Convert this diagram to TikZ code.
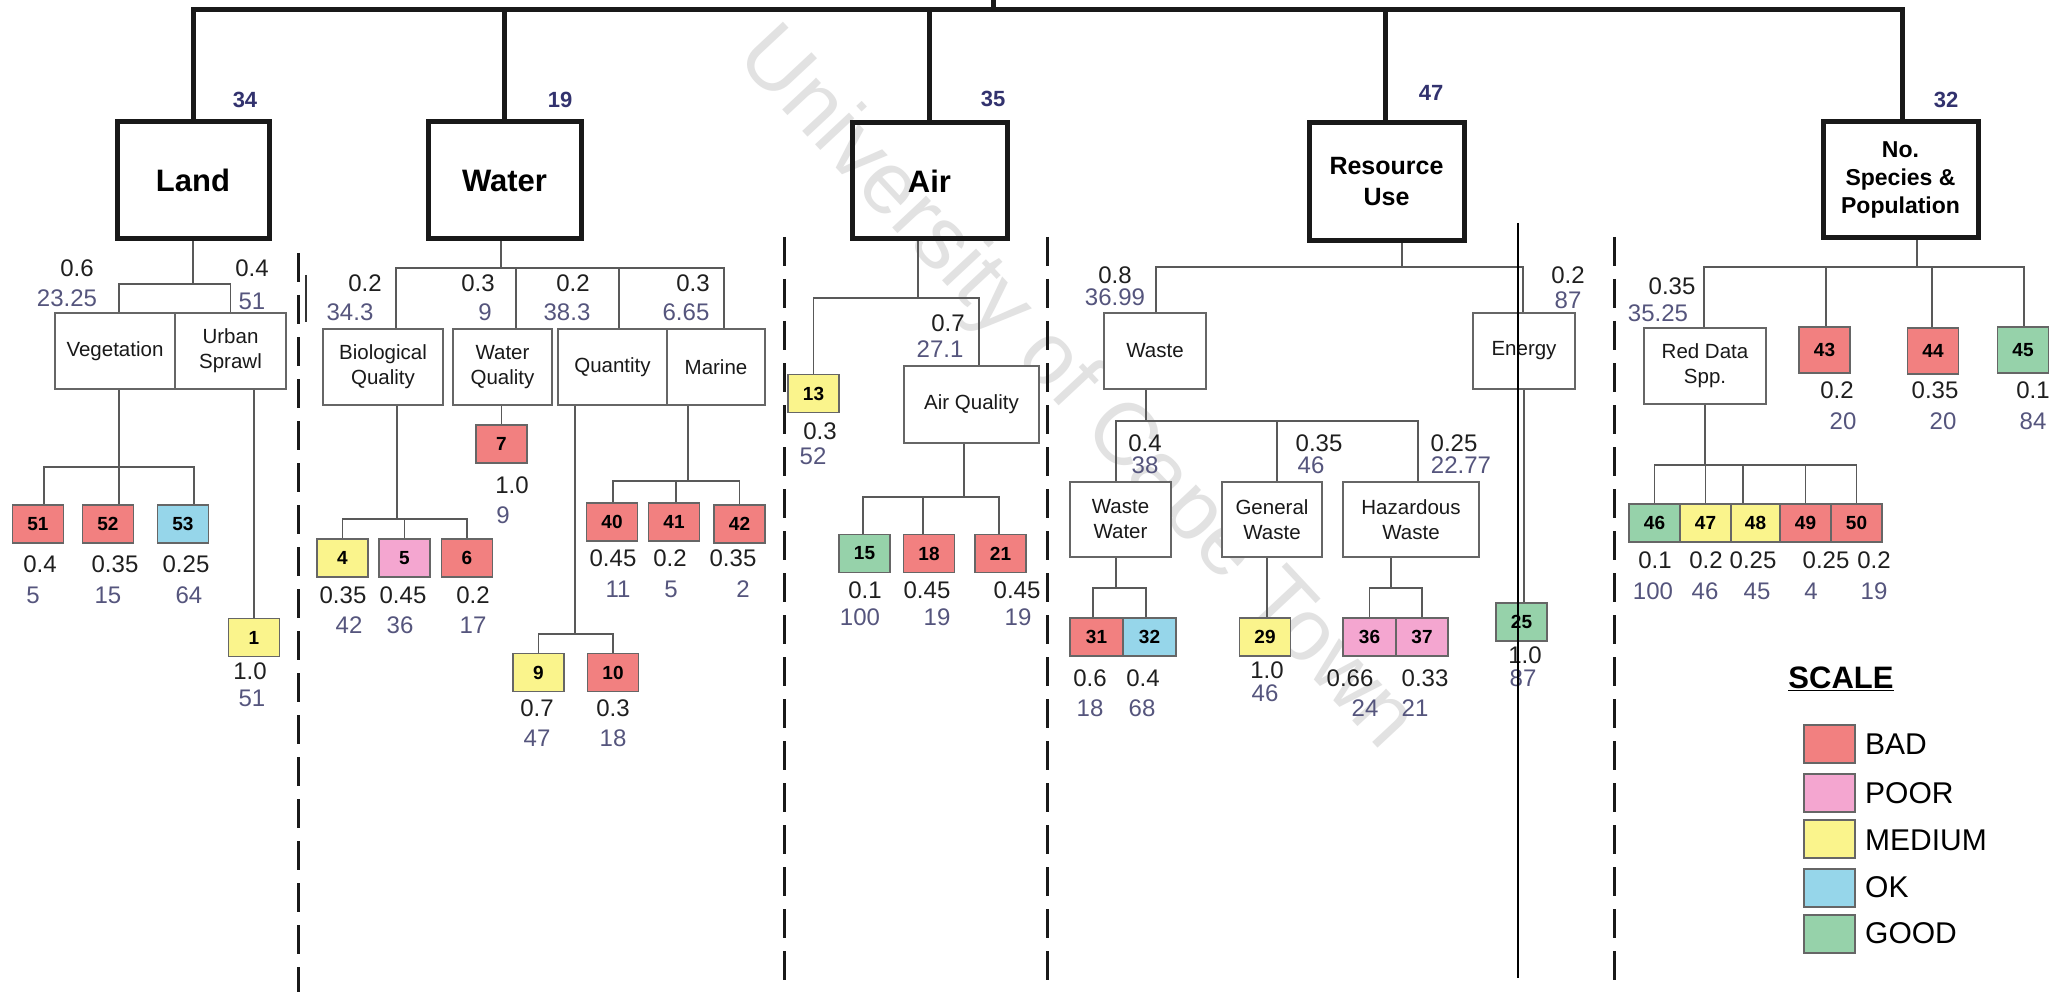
\documentclass[tikz,border=0pt]{standalone}
\usepackage{fontspec}
\setmainfont{Liberation Sans}
\usetikzlibrary{calc}
\definecolor{bad}{RGB}{242,128,128}
\definecolor{poor}{RGB}{244,166,208}
\definecolor{medium}{RGB}{250,244,140}
\definecolor{okc}{RGB}{150,214,234}
\definecolor{good}{RGB}{150,210,170}
\definecolor{scorecol}{RGB}{85,85,125}
\definecolor{topcol}{RGB}{50,50,110}
\definecolor{wmark}{RGB}{226,226,226}
\newcommand{\WS}[7]{\node[wt] (w#1) at (#2,#3) {#4};\node[sc] (s#1) at (#5,#6) {#7};}
\tikzset{
  mainbox/.style={draw=black!90, line width=5pt, inner sep=0pt, align=center, font=\fontsize{31}{36}\selectfont\bfseries},
  subbox/.style={draw=black!60, line width=1.5pt, fill=white, inner sep=0pt, align=center, minimum height=76pt, text=black!90, font=\fontsize{20.5}{25}\selectfont},
  ind/.style={draw=black!60, line width=1.5pt, inner sep=0pt, minimum height=38pt, minimum width=51pt, font=\fontsize{19}{22}\selectfont\bfseries},
  wt/.style={inner sep=0pt, text=black!88, font=\fontsize{24}{28}\selectfont},
  sc/.style={inner sep=0pt, text=scorecol, font=\fontsize{24}{28}\selectfont},
  topsc/.style={inner sep=0pt, text=topcol, font=\fontsize{22}{26}\selectfont\bfseries},
  conn/.style={draw=black!65, line width=1.5pt},
  bar/.style={draw=black!90, line width=5pt, line join=miter},
  sep/.style={draw=black!90, line width=3pt, dash pattern=on 29pt off 13pt},
  legtext/.style={anchor=west, inner sep=0pt, font=\fontsize{30}{36}\selectfont}
}
\begin{document}
\begin{tikzpicture}[x=1pt,y=-1pt]
\useasboundingbox (0,0) rectangle (2064,992);
\fill[white] (0,0) rectangle (2064,992);
% watermark
\node[rotate=-47, text=wmark, inner sep=0pt, font=\fontsize{88}{90}\selectfont] (wm) at (1075,390) {University of Cape Town};

% main boxes
\node[mainbox, minimum width=152pt, minimum height=117pt] (land) at (193,180.5) {Land};
\node[mainbox, minimum width=153pt, minimum height=117pt] (water) at (504.5,180.5) {Water};
\node[mainbox, minimum width=155pt, minimum height=116pt] (air) at (929.5,181) {Air};
\node[mainbox, minimum width=155pt, minimum height=118pt, font=\fontsize{25}{31}\selectfont\bfseries] (res) at (1386.5,182) {Resource\\Use};
\node[mainbox, minimum width=155pt, minimum height=116pt, font=\fontsize{23}{28}\selectfont\bfseries] (spp) at (1900.5,180) {No.\\Species \&\\Population};

\node[topsc] (t1) at (245,100) {34};
\node[topsc] (t2) at (560,100) {19};
\node[topsc] (t3) at (993,99) {35};
\node[topsc] (t4) at (1431,93) {47};
\node[topsc] (t5) at (1946,100) {32};

% top bar
\coordinate (barL) at (193,10);
\coordinate (barR) at (1902,10);
\coordinate (root) at (993,0);
\draw[bar] (land.north) -- (barL) -- (barR) -- ([xshift=1.5]spp.north);
\draw[bar] (water.north) -- (water.north |- barL);
\draw[bar] ([xshift=-0.5]air.north) -- ([xshift=-0.5]air.north |- barL);
\draw[bar] ([xshift=-1.5]res.north) -- ([xshift=-1.5]res.north |- barL);
\draw[bar] (root) -- (root |- barL);

% sub boxes
\node[subbox, minimum width=120pt] (veg) at (115,351) {Vegetation};
\node[subbox, minimum width=111pt] (urban) at (230.5,351) {Urban\\Sprawl};
\node[subbox, minimum width=120pt] (bio) at (383,367) {Biological\\Quality};
\node[subbox, minimum width=99pt] (wq) at (502.5,367) {Water\\Quality};
\node[subbox, minimum width=109pt] (qty) at (612.5,367) {Quantity};
\node[subbox, minimum width=98pt] (mar) at (716,367) {Marine};
\node[subbox, minimum width=135pt, minimum height=77pt] (aq) at (971.5,404.5) {Air Quality};
\node[subbox, minimum width=102pt] (waste) at (1155,351) {Waste};
\node[subbox, minimum width=102pt] (energy) at (1524,351) {Energy};
\node[subbox, minimum width=101pt, minimum height=75pt] (ww) at (1120.5,519.5) {Waste\\Water};
\node[subbox, minimum width=100pt, minimum height=75pt] (gw) at (1272,519.5) {General\\Waste};
\node[subbox, minimum width=136pt, minimum height=75pt] (hw) at (1411,519.5) {Hazardous\\Waste};
\node[subbox, minimum width=122pt] (rd) at (1705,366) {Red Data\\Spp.};

% indicator boxes
\node[ind, fill=bad] (b51) at (38,524) {51};
\node[ind, fill=bad] (b52) at (108,524) {52};
\node[ind, fill=okc] (b53) at (183,524) {53};
\node[ind, fill=medium] (b1) at (254,637.5) {1};
\node[ind, fill=medium] (b4) at (342.5,558) {4};
\node[ind, fill=poor] (b5) at (404.5,558) {5};
\node[ind, fill=bad] (b6) at (467,558) {6};
\node[ind, fill=bad] (b7) at (501.5,444) {7};
\node[ind, fill=medium] (b9) at (538.5,672.5) {9};
\node[ind, fill=bad] (b10) at (613,672.5) {10};
\node[ind, fill=bad] (b40) at (612,522) {40};
\node[ind, fill=bad] (b41) at (674,522) {41};
\node[ind, fill=bad] (b42) at (739.5,524) {42};
\node[ind, fill=medium] (b13) at (813.5,393.5) {13};
\node[ind, fill=good] (b15) at (864.5,553.5) {15};
\node[ind, fill=bad] (b18) at (929,553.5) {18};
\node[ind, fill=bad] (b21) at (1000.5,553.5) {21};
\node[ind, fill=bad, minimum width=53pt] (b31) at (1096.5,637) {31};
\node[ind, fill=okc, minimum width=53pt] (b32) at (1149.5,637) {32};
\node[ind, fill=medium] (b29) at (1265,637) {29};
\node[ind, fill=poor, minimum width=53pt] (b36) at (1369.5,637) {36};
\node[ind, fill=poor, minimum width=52pt] (b37) at (1422,637) {37};
\node[ind, fill=good] (b25) at (1521.5,622) {25};
\node[ind, fill=bad, minimum height=46pt] (b43) at (1824.5,350) {43};
\node[ind, fill=bad, minimum height=46pt] (b44) at (1933,351) {44};
\node[ind, fill=good, minimum height=46pt] (b45) at (2023,350) {45};
\node[ind, fill=good] (b46) at (1654.5,523) {46};
\node[ind, fill=medium] (b47) at (1705.5,523) {47};
\node[ind, fill=medium, minimum width=49pt] (b48) at (1755.5,523) {48};
\node[ind, fill=bad] (b49) at (1805.5,523) {49};
\node[ind, fill=bad] (b50) at (1856.5,523) {50};

% connectors: Land
\coordinate (landbus) at (193,284);
\draw[conn] (land.south) -- (landbus);
\draw[conn] ([xshift=4]veg.north) |- (landbus) -| (urban.north);
\coordinate (vegbus) at (119,467);
\draw[conn] ([xshift=4]veg.south) -- (vegbus);
\draw[conn] ([xshift=6]b51.north) |- (vegbus) -| ([xshift=11]b53.north);
\draw[conn] (vegbus) -- ([xshift=11]b52.north);
\draw[conn] (b1.north) -- (b1.north |- urban.south);
% Water
\coordinate (waterbus) at (501,268);
\draw[conn] ([xshift=-3.5]water.south) -- (waterbus);
\draw[conn] ([xshift=13]bio.north) |- (waterbus) -| ([xshift=8]mar.north);
\draw[conn] ([xshift=13.5]wq.north) -- ([xshift=13.5]wq.north |- waterbus);
\draw[conn] ([xshift=6.5]qty.north) -- ([xshift=6.5]qty.north |- waterbus);
\coordinate (biobus) at (397,519);
\draw[conn] ([xshift=14]bio.south) -- (biobus);
\draw[conn] (b4.north) |- (biobus) -| (b6.north);
\draw[conn] (b5.north) -- (b5.north |- biobus);
\draw[conn] (b7.north) -- (b7.north |- wq.south);
\coordinate (qtybus) at (575,634);
\draw[conn] ([xshift=-37.5]qty.south) -- (qtybus);
\draw[conn] (b9.north) |- (qtybus) -| (b10.north);
\coordinate (marbus) at (688,481);
\draw[conn] ([xshift=-28]mar.south) -- (marbus);
\draw[conn] ([xshift=1]b40.north) |- (marbus) -| (b42.north);
\draw[conn] ([xshift=2]b41.north) -- ([xshift=2]b41.north |- marbus);
% Air
\coordinate (airbus) at (918,298);
\draw[conn] ([xshift=-11.5]air.south) -- (airbus);
\draw[conn] (b13.north) |- (airbus) -| ([xshift=7.5]aq.north);
\coordinate (aqbus) at (964,497);
\draw[conn] ([xshift=-7.5]aq.south) -- (aqbus);
\draw[conn] ([xshift=-1.5]b15.north) |- (aqbus) -| ([xshift=-1.5]b21.north);
\draw[conn] ([xshift=-6]b18.north) -- ([xshift=-6]b18.north |- aqbus);
% Resource use
\coordinate (resbus) at (1402,267);
\draw[conn] ([xshift=15.5]res.south) -- (resbus);
\draw[conn] ([xshift=1]waste.north) |- (resbus) -| ([xshift=-1]energy.north);
\coordinate (wastebus) at (1146,421);
\draw[conn] ([xshift=-9]waste.south) -- (wastebus);
\draw[conn] ([xshift=-4.5]ww.north) |- (wastebus) -| ([xshift=7]hw.north);
\draw[conn] ([xshift=5]gw.north) -- ([xshift=5]gw.north |- wastebus);
\coordinate (wwbus) at (1116,588);
\draw[conn] ([xshift=-4.5]ww.south) -- (wwbus);
\draw[conn] ([xshift=-3.5]b31.north) |- (wwbus) -| ([xshift=-3.5]b32.north);
\draw[conn] ([xshift=2]b29.north) -- ([xshift=2]b29.north |- gw.south);
\coordinate (hwbus) at (1391,588);
\draw[conn] ([xshift=-20]hw.south) -- (hwbus);
\draw[conn] (b36.north) |- (hwbus) -| (b37.north);
\draw[conn] (energy.south) -- (energy.south |- b25.north);
% Species
\coordinate (sppbus) at (1917,267);
\draw[conn] ([xshift=16.5]spp.south) -- (sppbus);
\draw[conn] ([xshift=-1]rd.north) |- (sppbus) -| ([xshift=1]b45.north);
\draw[conn] ([xshift=1.5]b43.north) -- ([xshift=1.5]b43.north |- sppbus);
\draw[conn] ([xshift=-1]b44.north) -- ([xshift=-1]b44.north |- sppbus);
\coordinate (rdbus) at (1705,465);
\draw[conn] (rd.south) -- (rdbus);
\draw[conn] (b46.north) |- (rdbus) -| (b50.north);
\draw[conn] (b47.north) -- (b47.north |- rdbus);
\draw[conn] ([xshift=-12.5]b48.north) -- ([xshift=-12.5]b48.north |- rdbus);
\draw[conn] (b49.north) -- (b49.north |- rdbus);

% weights and scores
\WS{veg}{77}{268}{0.6}{67}{298}{23.25}
\WS{urb}{252}{268}{0.4}{252}{301}{51}
\WS{51}{40}{564}{0.4}{33}{595}{5}
\WS{52}{115}{564}{0.35}{108}{595}{15}
\WS{53}{186}{564}{0.25}{189}{595}{64}
\WS{1}{250}{671}{1.0}{252}{698}{51}
\WS{bio}{365}{283}{0.2}{350}{312}{34.3}
\WS{wq}{478}{283}{0.3}{485}{312}{9}
\WS{qty}{573}{283}{0.2}{567}{312}{38.3}
\WS{mar}{693}{283}{0.3}{686}{312}{6.65}
\WS{4}{343}{595}{0.35}{349}{625}{42}
\WS{5}{403}{595}{0.45}{400}{625}{36}
\WS{6}{473}{595}{0.2}{473}{625}{17}
\WS{7}{512}{485}{1.0}{503}{515}{9}
\WS{9}{537}{708}{0.7}{537}{738}{47}
\WS{10}{613}{708}{0.3}{613}{738}{18}
\WS{40}{613}{558}{0.45}{618}{589}{11}
\WS{41}{670}{558}{0.2}{671}{589}{5}
\WS{42}{733}{558}{0.35}{743}{589}{2}
\WS{aq}{948}{323}{0.7}{940}{349}{27.1}
\WS{13}{820}{431}{0.3}{813}{456}{52}
\WS{15}{865}{590}{0.1}{860}{617}{100}
\WS{18}{927}{590}{0.45}{937}{617}{19}
\WS{21}{1017}{590}{0.45}{1018}{617}{19}
\WS{waste}{1115}{275}{0.8}{1115}{297}{36.99}
\WS{energy}{1568}{275}{0.2}{1568}{300}{87}
\WS{ww}{1145}{443}{0.4}{1145}{465}{38}
\WS{gw}{1319}{443}{0.35}{1311}{465}{46}
\WS{hw}{1454}{443}{0.25}{1461}{465}{22.77}
\WS{31}{1090}{678}{0.6}{1090}{708}{18}
\WS{32}{1143}{678}{0.4}{1142}{708}{68}
\WS{29}{1267}{670}{1.0}{1265}{693}{46}
\WS{36}{1350}{678}{0.66}{1365}{708}{24}
\WS{37}{1425}{678}{0.33}{1415}{708}{21}
\WS{25}{1525}{655}{1.0}{1523}{678}{87}
\WS{rd}{1672}{286}{0.35}{1658}{313}{35.25}
\WS{43}{1837}{390}{0.2}{1843}{421}{20}
\WS{44}{1935}{390}{0.35}{1943}{421}{20}
\WS{45}{2033}{390}{0.1}{2033}{421}{84}
\WS{46}{1655}{560}{0.1}{1653}{591}{100}
\WS{47}{1706}{560}{0.2}{1705}{591}{46}
\WS{48}{1753}{560}{0.25}{1757}{591}{45}
\WS{49}{1826}{560}{0.25}{1811}{591}{4}
\WS{50}{1874}{560}{0.2}{1874}{591}{19}

% separators
\coordinate (s1a) at (298,253); \coordinate (s1b) at (298,992);
\coordinate (s2a) at (784,237); \coordinate (s2b) at (784,992);
\coordinate (s3a) at (1047,237); \coordinate (s3b) at (1047,992);
\coordinate (s4a) at (1614,237); \coordinate (s4b) at (1614,992);
\draw[sep] (s1a) -- (s1b);
\draw[sep] (s2a) -- (s2b);
\draw[sep] (s3a) -- (s3b);
\draw[sep] (s4a) -- (s4b);
\coordinate (tla) at (306,275); \coordinate (tlb) at (306,322);
\draw[black!80, line width=1.5pt] (tla) -- (tlb);
\coordinate (vla) at (1518,223); \coordinate (vlb) at (1518,978);
\draw[black, line width=1.5pt] (vla) -- (vlb);

% legend
\node[anchor=base, inner sep=0pt, font=\fontsize{31}{36}\selectfont\bfseries] (scale) at (1841,688) {\underline{SCALE}};
\node[ind, fill=bad] (lbad) at (1829.5,744) {};
\node[ind, fill=poor] (lpoor) at (1829.5,793) {};
\node[ind, fill=medium] (lmed) at (1829.5,839) {};
\node[ind, fill=okc] (lok) at (1829.5,888) {};
\node[ind, fill=good] (lgood) at (1829.5,934) {};
\node[legtext] (tbad) at (1865,744) {BAD};
\node[legtext] (tpoor) at (1865,793) {POOR};
\node[legtext] (tmed) at (1865,840) {MEDIUM};
\node[legtext] (tok) at (1865,887) {OK};
\node[legtext] (tgood) at (1865,933) {GOOD};
\end{tikzpicture}
\end{document}
